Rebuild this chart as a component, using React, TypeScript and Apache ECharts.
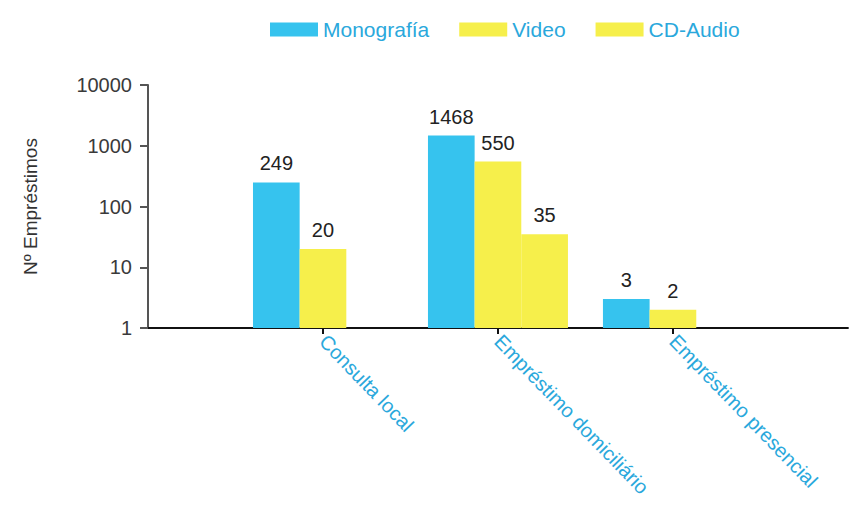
import React, { useEffect, useRef } from "react";
import * as echarts from "echarts";

const categories = ["", "Consulta local", "Empréstimo domiciliário", "Empréstimo presencial", ""];
const seriesNames = ["Monografía", "Video", "CD-Audio"];
const monografia: (number | string)[] = ["-", 249, 1468, 3, "-"];
const video: (number | string)[] = ["-", 20, 550, 2, "-"];
const cdAudio: (number | string)[] = ["-", "-", 35, "-", "-"];
const colors = ["#36c3ee", "#f6ef4b", "#f6ef4b"];

const FONT = "Liberation Sans, Arial, sans-serif";

export default function App() {
  const ref = useRef<HTMLDivElement>(null);
  useEffect(() => {
    if (!ref.current) return;
    const chart = echarts.init(ref.current, null, { renderer: "svg" });
    const mkSeries = (name: string, data: (number | string)[], color: string) => ({
      name,
      type: "bar",
      data,
      barGap: "0%",
      barCategoryGap: "20%",
      itemStyle: { color },
      label: {
        show: true,
        position: "top",
        distance: 9,
        color: "#222",
        fontSize: 20,
        fontFamily: FONT,
      },
    });
    chart.setOption({
      animation: false,
      backgroundColor: "#ffffff",
      textStyle: { fontFamily: FONT },
      legend: {
        data: seriesNames,
        left: 265,
        top: 14,
        itemWidth: 48,
        itemHeight: 14,
        itemGap: 30,
        icon: "rect",
        textStyle: { fontSize: 21, color: "#2aa8dc", fontFamily: FONT },
      },
      grid: { left: 148, right: 0, top: 85, bottom: 180 },
      xAxis: {
        type: "category",
        data: categories,
        boundaryGap: false,
        axisLine: { lineStyle: { color: "#111", width: 2 } },
        axisTick: {
          show: true,
          length: 6,
          interval: (i: number) => i >= 1 && i <= 3,
          lineStyle: { color: "#111", width: 2 },
        },
        axisLabel: {
          interval: 0,
          rotate: -46,
          margin: 10,
          fontSize: 20,
          color: "#2aa8dc",
          fontFamily: FONT,
        },
      },
      yAxis: {
        type: "log",
        logBase: 10,
        min: 1,
        max: 10000,
        name: "Nº Empréstimos",
        nameLocation: "middle",
        nameGap: 108,
        nameRotate: 90,
        nameTextStyle: { fontSize: 19, color: "#333", fontFamily: FONT },
        axisLine: { show: true, lineStyle: { color: "#555", width: 2 } },
        axisTick: { show: true, length: 8, lineStyle: { color: "#555", width: 2 } },
        axisLabel: {
          fontSize: 20,
          color: "#3a3a3a",
          margin: 16,
          fontFamily: FONT,
          formatter: (v: number) => String(Math.round(v)),
        },
        splitLine: { show: false },
      },
      series: [
        mkSeries(seriesNames[0], monografia, colors[0]),
        mkSeries(seriesNames[1], video, colors[1]),
        mkSeries(seriesNames[2], cdAudio, colors[2]),
      ],
    });
    return () => chart.dispose();
  }, []);
  return <div ref={ref} style={{ width: 850, height: 508, position: "absolute", left: 0, top: 0 }} />;
}
